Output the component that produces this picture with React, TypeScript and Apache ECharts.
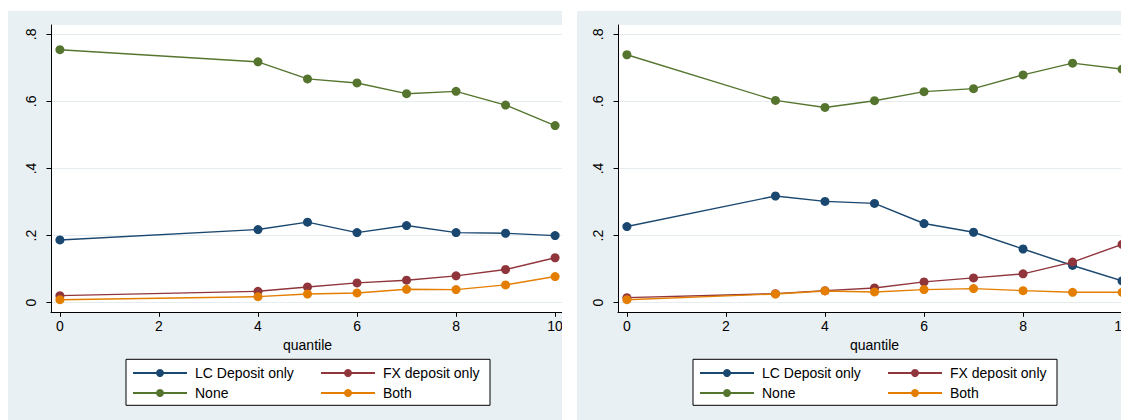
import React, { useEffect, useRef } from "react";
import * as echarts from "echarts";

const seriesNames = ["LC Deposit only", "FX deposit only", "None", "Both"];
const seriesColors = ["#1a476f", "#90353b", "#55752f", "#e37e00"];

const leftQuantiles = [0, 4, 5, 6, 7, 8, 9, 10];
const leftLC = [0.187, 0.218, 0.24, 0.209, 0.23, 0.209, 0.207, 0.2];
const leftFX = [0.021, 0.034, 0.047, 0.059, 0.067, 0.08, 0.099, 0.134];
const leftNone = [0.754, 0.718, 0.667, 0.655, 0.623, 0.63, 0.589, 0.528];
const leftBoth = [0.009, 0.018, 0.026, 0.029, 0.04, 0.039, 0.053, 0.078];

const rightQuantiles = [0, 3, 4, 5, 6, 7, 8, 9, 10];
const rightLC = [0.227, 0.318, 0.302, 0.296, 0.236, 0.21, 0.16, 0.111, 0.065];
const rightFX = [0.015, 0.027, 0.036, 0.044, 0.062, 0.074, 0.086, 0.121, 0.174];
const rightNone = [0.739, 0.603, 0.582, 0.602, 0.629, 0.638, 0.679, 0.714, 0.696];
const rightBoth = [0.009, 0.026, 0.035, 0.032, 0.039, 0.042, 0.036, 0.031, 0.031];

const xTicks = [0, 2, 4, 6, 8, 10];
const yTicks = [0, 0.2, 0.4, 0.6, 0.8];
const xAxisTitle = "quantile";

const FONT = "'Liberation Sans', Arial, sans-serif";
const PANEL_BG = "#e9f0f3";
const GRID_COLOR = "#e5edf0";

type PanelProps = {
  pageLeft: number;
  clipWidth: number;
  axisLeft: number;
  legendLeft: number;
  quantiles: number[];
  values: number[][];
};

function Panel({ pageLeft, clipWidth, axisLeft, legendLeft, quantiles, values }: PanelProps) {
  const ref = useRef<HTMLDivElement>(null);
  useEffect(() => {
    if (!ref.current) return;
    const chart = echarts.init(ref.current, undefined, { renderer: "svg" });
    const gridTop = 14;
    const gridHeight = 287.3;
    const series = seriesNames.map((name, i) => ({
      name,
      type: "line",
      data: quantiles.map((q, j) => [q, values[i][j]]),
      symbol: "circle",
      symbolSize: 9,
      color: seriesColors[i],
      lineStyle: { width: 1.4, color: seriesColors[i] },
      itemStyle: { color: seriesColors[i] },
      z: 2 + (i === 3 ? 1 : 0),
    }));
    const legendCommon = {
      orient: "vertical",
      padding: 0,
      itemWidth: 54,
      itemHeight: 10,
      itemGap: 6,
      top: 355,
      textStyle: { fontFamily: FONT, fontSize: 14, color: "#000", padding: [0, 0, 0, 3] },
      selectedMode: false,
    };
    chart.setOption({
      animation: false,
      backgroundColor: "transparent",
      grid: {
        left: axisLeft,
        top: gridTop,
        width: 513,
        height: gridHeight,
        show: true,
        backgroundColor: "#ffffff",
        borderWidth: 0,
      },
      xAxis: {
        type: "value",
        min: -0.18,
        max: 10.18,
        name: xAxisTitle,
        nameLocation: "middle",
        nameGap: 15,
        nameTextStyle: { fontFamily: FONT, fontSize: 14, color: "#000" },
        axisLine: { onZero: false, lineStyle: { color: "#000", width: 1 } },
        axisTick: { show: true, length: 4.5, customValues: xTicks, lineStyle: { color: "#000" } },
        axisLabel: {
          customValues: xTicks,
          margin: 7,
          fontFamily: FONT,
          fontSize: 14,
          color: "#000",
        },
        splitLine: { show: false },
      },
      yAxis: {
        type: "value",
        min: -0.0286,
        max: 0.8277,
        axisLine: { show: true, onZero: false, lineStyle: { color: "#000", width: 1 } },
        axisTick: { show: true, length: 4.5, customValues: yTicks, lineStyle: { color: "#000" } },
        axisLabel: {
          customValues: yTicks,
          rotate: 90,
          margin: 13,
          fontFamily: FONT,
          fontSize: 14,
          color: "#000",
          formatter: (v: number) => (Math.abs(v) < 1e-9 ? "0" : v.toFixed(1).replace(/^0\./, ".")),
        },
        splitLine: { show: true, lineStyle: { color: GRID_COLOR, width: 1 } },
      },
      legend: [
        { ...legendCommon, left: legendLeft, data: [seriesNames[0], seriesNames[2]] },
        { ...legendCommon, left: legendLeft + 188, data: [seriesNames[1], seriesNames[3]] },
      ],
      graphic: [
        {
          type: "rect",
          z: -1,
          shape: { x: legendLeft - 6, y: 348.3, width: 364, height: 46 },
          style: { fill: "#ffffff", stroke: "#000000", lineWidth: 1 },
        },
      ],
      series,
    });
    return () => chart.dispose();
  }, []);
  return (
    <div
      style={{
        position: "absolute",
        left: pageLeft,
        top: 11,
        width: clipWidth,
        height: 409,
        overflow: "hidden",
        background: PANEL_BG,
      }}
    >
      <div ref={ref} style={{ position: "absolute", left: 0, top: 0, width: 620, height: 409 }} />
    </div>
  );
}

export default function App() {
  return (
    <div
      style={{
        position: "fixed",
        left: 0,
        top: 0,
        width: 1121,
        height: 420,
        overflow: "hidden",
        background: "#ffffff",
      }}
    >
      <Panel
        pageLeft={8}
        clipWidth={554}
        axisLeft={43}
        legendLeft={124}
        quantiles={leftQuantiles}
        values={[leftLC, leftFX, leftNone, leftBoth]}
      />
      <Panel
        pageLeft={577}
        clipWidth={544}
        axisLeft={41}
        legendLeft={122}
        quantiles={rightQuantiles}
        values={[rightLC, rightFX, rightNone, rightBoth]}
      />
    </div>
  );
}
